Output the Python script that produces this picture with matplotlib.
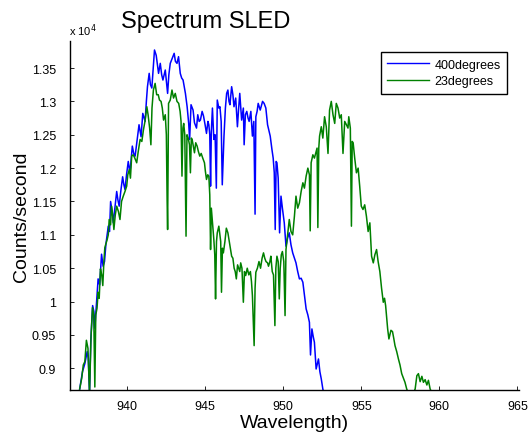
import matplotlib
matplotlib.use("Agg")
import matplotlib.pyplot as plt
from matplotlib.ticker import FuncFormatter

plt.rcParams.update({
    "font.family": ["Liberation Sans", "DejaVu Sans"],
    "font.size": 9,
})

# counts/second in units of 1e4
wl_400 = [
    936.97, 937.15, 937.30, 937.45, 937.52, 937.60, 937.68, 937.80, 937.88, 937.94,
    938.05, 938.15, 938.25, 938.37, 938.47, 938.56, 938.65, 938.80, 938.88, 938.95,
    939.05, 939.12, 939.22, 939.34, 939.42, 939.50, 939.60, 939.72, 939.80, 939.87,
    939.97, 940.08, 940.19, 940.34, 940.43, 940.52, 940.64, 940.77, 940.90, 941.01,
    941.16, 941.24, 941.31, 941.42, 941.50, 941.59, 941.68, 941.76, 941.87, 941.95,
    942.02, 942.13, 942.22, 942.30, 942.45, 942.52, 942.60, 942.68, 942.77, 942.90,
    943.02, 943.10, 943.20, 943.30, 943.41, 943.50, 943.59, 943.68, 943.74, 943.85,
    943.95, 944.01, 944.10, 944.23, 944.32, 944.45, 944.53, 944.62, 944.70, 944.81,
    944.90, 945.00, 945.09, 945.18, 945.24, 945.30, 945.35, 945.40, 945.47, 945.56,
    945.64, 945.72, 945.78, 945.88, 945.95, 946.03, 946.10, 946.21, 946.30, 946.38,
    946.46, 946.53, 946.59, 946.70, 946.78, 946.85, 946.96, 947.07, 947.15, 947.22,
    947.34, 947.45, 947.50, 947.58, 947.67, 947.75, 947.82, 947.93, 948.03, 948.12,
    948.20, 948.25, 948.33, 948.40, 948.53, 948.68, 948.78, 948.89, 949.00, 949.10,
    949.17, 949.28, 949.36, 949.43, 949.49, 949.55, 949.60, 949.68, 949.77, 949.86,
    949.95, 950.07, 950.18, 950.28, 950.39, 950.50, 950.61, 950.72, 950.82, 950.93,
    951.04, 951.15, 951.26, 951.36, 951.47, 951.58, 951.68, 951.75, 951.84, 951.92,
    952.00, 952.11, 952.26, 952.35, 952.44, 952.54, 952.62,
]
counts_400 = [
    0.869, 0.895, 0.907, 0.925, 0.915, 0.862, 0.940, 0.994, 0.985, 0.960,
    1.000, 1.034, 1.025, 1.071, 1.053, 1.060, 1.086, 1.113, 1.105, 1.150,
    1.135, 1.118, 1.140, 1.165, 1.152, 1.143, 1.165, 1.187, 1.175, 1.168,
    1.190, 1.210, 1.193, 1.233, 1.222, 1.218, 1.240, 1.265, 1.247, 1.282,
    1.270, 1.300, 1.322, 1.342, 1.325, 1.320, 1.350, 1.377, 1.369, 1.355,
    1.342, 1.357, 1.340, 1.332, 1.347, 1.330, 1.312, 1.340, 1.357, 1.365,
    1.372, 1.360, 1.357, 1.367, 1.342, 1.335, 1.332, 1.320, 1.312, 1.292,
    1.267, 1.243, 1.295, 1.287, 1.268, 1.260, 1.280, 1.270, 1.272, 1.285,
    1.278, 1.265, 1.252, 1.270, 1.265, 1.250, 1.173, 1.255, 1.290, 1.243,
    1.250, 1.170, 1.302, 1.290, 1.292, 1.270, 1.175, 1.248, 1.290, 1.312,
    1.317, 1.300, 1.295, 1.322, 1.310, 1.292, 1.305, 1.262, 1.290, 1.312,
    1.272, 1.290, 1.235, 1.280, 1.285, 1.275, 1.270, 1.285, 1.248, 1.270,
    1.131, 1.277, 1.285, 1.297, 1.287, 1.300, 1.297, 1.290, 1.265, 1.255,
    1.248, 1.228, 1.215, 1.193, 1.108, 1.210, 1.208, 1.185, 1.103, 1.158,
    1.140, 1.118, 1.083, 1.095, 1.103, 1.085, 1.073, 1.065, 1.058, 1.045,
    1.034, 1.035, 1.029, 1.010, 0.989, 0.980, 0.969, 0.920, 0.959, 0.948,
    0.939, 0.899, 0.914, 0.895, 0.884, 0.869, 0.860,
]

wl_23 = [
    936.97, 937.10, 937.20, 937.30, 937.40, 937.50, 937.60, 937.70, 937.79, 937.87,
    937.94, 938.00, 938.08, 938.15, 938.22, 938.30, 938.38, 938.45, 938.52, 938.58,
    938.73, 938.80, 938.86, 938.95, 939.01, 939.08, 939.16, 939.25, 939.34, 939.45,
    939.55, 939.65, 939.76, 939.87, 939.98, 940.05, 940.15, 940.22, 940.30, 940.40,
    940.50, 940.62, 940.72, 940.84, 940.95, 941.05, 941.15, 941.27, 941.35, 941.45,
    941.53, 941.60, 941.69, 941.80, 941.90, 942.00, 942.08, 942.18, 942.26, 942.34,
    942.45, 942.52, 942.57, 942.60, 942.63, 942.66, 942.77, 942.88, 942.98, 943.09,
    943.20, 943.31, 943.40, 943.46, 943.52, 943.58, 943.63, 943.70, 943.78, 943.84,
    943.92, 944.00, 944.06, 944.12, 944.17, 944.25, 944.32, 944.40, 944.49, 944.57,
    944.66, 944.75, 944.85, 944.96, 945.02, 945.09, 945.17, 945.24, 945.30, 945.35,
    945.40, 945.46, 945.51, 945.56, 945.62, 945.67, 945.73, 945.78, 945.88, 945.95,
    946.00, 946.05, 946.11, 946.17, 946.27, 946.36, 946.46, 946.55, 946.62, 946.70,
    946.78, 946.86, 946.93, 947.00, 947.08, 947.15, 947.22, 947.28, 947.36, 947.45,
    947.52, 947.60, 947.70, 947.80, 947.90, 947.97, 948.03, 948.14, 948.20, 948.25,
    948.35, 948.45, 948.55, 948.65, 948.74, 948.82, 948.90, 949.00, 949.06, 949.15,
    949.21, 949.30, 949.38, 949.47, 949.53, 949.60, 949.68, 949.75, 949.81, 949.88,
    949.95, 950.04, 950.12, 950.18, 950.28, 950.39, 950.50, 950.61, 950.72, 950.82,
    950.93, 951.04, 951.15, 951.26, 951.36, 951.47, 951.58, 951.68, 951.73, 951.79,
    951.90, 952.00, 952.11, 952.17, 952.22, 952.28, 952.33, 952.44, 952.54, 952.65,
    952.76, 952.87, 952.97, 953.08, 953.19, 953.30, 953.40, 953.51, 953.62, 953.72,
    953.83, 953.94, 954.05, 954.15, 954.20, 954.30, 954.37, 954.42, 954.48, 954.58,
    954.69, 954.80, 954.90, 955.00, 955.11, 955.22, 955.33, 955.44, 955.55, 955.66,
    955.77, 955.87, 955.98, 956.08, 956.19, 956.30, 956.41, 956.49, 956.56, 956.63,
    956.69, 956.77, 956.90, 957.00, 957.08, 957.16, 957.27, 957.38, 957.48, 957.59,
    957.70, 957.80, 957.91, 958.10, 958.30, 958.45, 958.56, 958.66, 958.77, 958.88,
    958.98, 959.09, 959.20, 959.30, 959.41, 959.55,
]
counts_23 = [
    0.869, 0.885, 0.905, 0.910, 0.942, 0.930, 0.862, 0.950, 0.991, 0.980,
    0.872, 0.980, 0.990, 1.014, 1.005, 1.049, 1.040, 1.024, 1.060, 1.081,
    1.093, 1.100, 1.123, 1.115, 1.143, 1.130, 1.108, 1.130, 1.143, 1.135,
    1.123, 1.150, 1.158, 1.165, 1.173, 1.190, 1.198, 1.185, 1.218, 1.220,
    1.215, 1.208, 1.225, 1.243, 1.240, 1.257, 1.270, 1.292, 1.280, 1.260,
    1.235, 1.290, 1.317, 1.327, 1.310, 1.310, 1.302, 1.300, 1.290, 1.272,
    1.280, 1.250, 1.150, 1.108, 1.200, 1.297, 1.302, 1.317, 1.305, 1.312,
    1.300, 1.297, 1.285, 1.270, 1.188, 1.260, 1.267, 1.250, 1.098, 1.250,
    1.245, 1.235, 1.193, 1.245, 1.243, 1.232, 1.223, 1.238, 1.233, 1.225,
    1.218, 1.222, 1.215, 1.208, 1.195, 1.183, 1.190, 1.188, 1.160, 1.078,
    1.140, 1.123, 1.110, 1.093, 1.070, 1.004, 1.090, 1.103, 1.113, 1.100,
    1.090, 1.014, 1.080, 1.073, 1.090, 1.110, 1.103, 1.090, 1.080, 1.068,
    1.065, 1.050, 1.045, 1.034, 1.055, 1.050, 1.045, 1.058, 1.050, 0.999,
    1.045, 1.039, 1.050, 1.040, 1.045, 1.030, 1.009, 0.934, 1.020, 1.044,
    1.050, 1.060, 1.050, 1.065, 1.073, 1.065, 1.060, 1.058, 1.053, 1.060,
    1.068, 1.045, 1.040, 0.964, 1.050, 1.068, 1.060, 1.004, 1.050, 1.070,
    1.075, 1.060, 0.979, 1.078, 1.100, 1.123, 1.105, 1.100, 1.128, 1.158,
    1.140, 1.148, 1.165, 1.178, 1.170, 1.188, 1.200, 1.190, 1.106, 1.208,
    1.220, 1.215, 1.225, 1.230, 1.111, 1.230, 1.248, 1.262, 1.245, 1.277,
    1.262, 1.222, 1.287, 1.300, 1.280, 1.267, 1.297, 1.290, 1.275, 1.280,
    1.222, 1.270, 1.265, 1.260, 1.277, 1.260, 1.113, 1.240, 1.238, 1.215,
    1.193, 1.200, 1.173, 1.143, 1.138, 1.145, 1.128, 1.105, 1.118, 1.068,
    1.058, 1.070, 1.078, 1.060, 1.045, 1.020, 0.999, 1.005, 0.994, 0.975,
    0.959, 0.944, 0.957, 0.955, 0.945, 0.934, 0.925, 0.914, 0.905, 0.892,
    0.885, 0.879, 0.869, 0.858, 0.860, 0.869, 0.889, 0.892, 0.880, 0.888,
    0.879, 0.883, 0.875, 0.882, 0.869, 0.862,
]

x_ticks = [940, 945, 950, 955, 960, 965]
y_ticks = [0.9, 0.95, 1.0, 1.05, 1.1, 1.15, 1.2, 1.25, 1.3, 1.35]

fig = plt.figure(figsize=(5.30, 4.39), dpi=100)
ax = fig.add_axes([70 / 530, 48 / 439, 449 / 530, 349 / 439])

ax.plot(wl_400, counts_400, color="#0000ff", lw=1.1, label="400degrees")
ax.plot(wl_23, counts_23, color="#008000", lw=1.1, label="23degrees")

ax.set_xlim(936.35, 965.1)
ax.set_ylim(0.8675, 1.3905)
ax.set_xticks(x_ticks)
ax.set_yticks(y_ticks)
ax.yaxis.set_major_formatter(FuncFormatter(lambda v, _: f"{v:g}"))
ax.tick_params(direction="in", length=3, width=0.6, labelsize=9)
ax.tick_params(axis="y", pad=10)
ax.tick_params(axis="x", pad=7)

for s in ("top", "right"):
    ax.spines[s].set_visible(False)
for s in ("left", "bottom"):
    ax.spines[s].set_linewidth(1.0)

fig.text(69 / 530, 1 - 36 / 439, r"x 10$^{4}$", fontsize=8)
fig.text(206 / 530, 1 - 28 / 439, "Spectrum SLED", fontsize=17, ha="center")
ax.set_xlabel("Wavelength)", fontsize=14, labelpad=2)
ax.set_ylabel("Counts/second", fontsize=14, labelpad=1)

leg = ax.legend(loc="upper right", bbox_to_anchor=(513 / 530, 1 - 47 / 439),
                bbox_transform=fig.transFigure, fontsize=9, fancybox=False,
                edgecolor="black", framealpha=1, handlelength=3.4,
                borderpad=0.5, labelspacing=0.4, handletextpad=0.4)
leg.get_frame().set_linewidth(1.0)
for line in leg.get_lines():
    line.set_linewidth(1.0)

fig.savefig("out.png", dpi=100)
